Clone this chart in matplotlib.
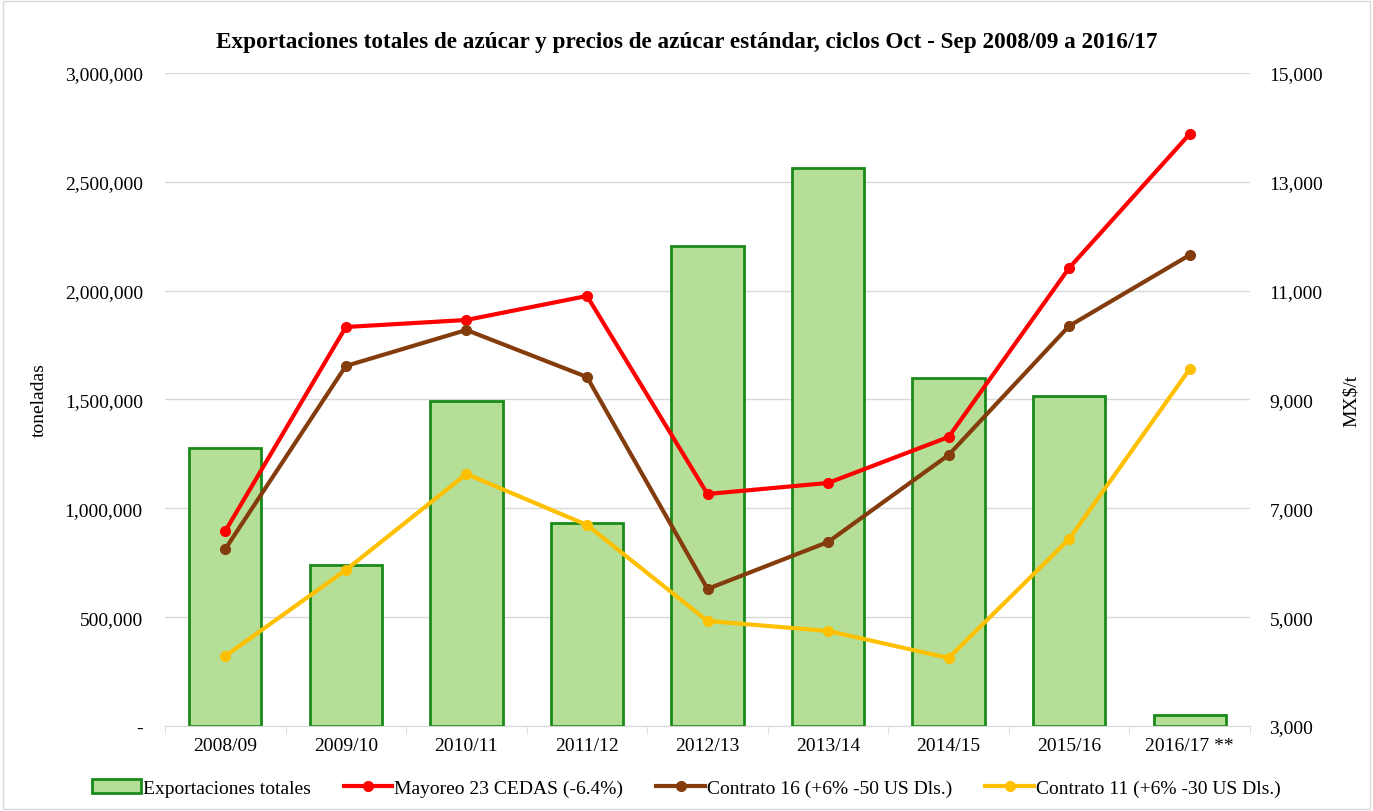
import matplotlib.pyplot as plt
import matplotlib.ticker as mticker
from matplotlib.patches import Rectangle

plt.rcParams['font.family'] = ['Liberation Serif', 'DejaVu Serif']

ciclos = ['2008/09', '2009/10', '2010/11', '2011/12', '2012/13',
          '2013/14', '2014/15', '2015/16', '2016/17 **']
exportaciones = [1275000, 740000, 1495000, 933000, 2205000,
                 2563000, 1599000, 1516000, 51000]
mayoreo = [6583, 10332, 10461, 10902, 7263, 7466, 8311, 11417, 13879]
contrato16 = [6253, 9616, 10277, 9413, 5518, 6381, 7980, 10351, 11655]
contrato11 = [4286, 5867, 7631, 6694, 4930, 4746, 4250, 6436, 9560]

fig = plt.figure(figsize=(13.73, 8.12), dpi=100)
ax = fig.add_axes([0.1202, 0.1047, 0.7902, 0.8042])
ax2 = ax.twinx()

x = list(range(len(ciclos)))
bars = ax.bar(x, exportaciones, width=0.6, color='#b5de97', edgecolor='#1a8a1a',
              linewidth=2, label='Exportaciones totales', zorder=2)
ax.set_ylim(0, 3000000)
ax.set_xlim(-0.5, len(ciclos) - 0.5)
ax.yaxis.set_major_locator(mticker.MultipleLocator(500000))
ax.yaxis.set_major_formatter(mticker.FuncFormatter(lambda v, p: '-' if v == 0 else f'{v:,.0f}'))
ax.grid(axis='y', color='#d9d9d9', linewidth=1, zorder=0)
ax.set_axisbelow(True)
ax.set_xticks(x)
ax.set_xticklabels(ciclos)
ax.set_xticks([i + 0.5 for i in range(-1, len(ciclos))], minor=True)
ax.tick_params(axis='x', which='major', length=0, pad=8, labelsize=14)
ax.tick_params(axis='x', which='minor', length=6, color='#d9d9d9')
ax.tick_params(axis='y', length=0, labelsize=14, pad=16)
ax.set_ylabel('toneladas', fontsize=14, labelpad=12)
for s in ['top', 'left', 'right']:
    ax.spines[s].set_visible(False)
ax.spines['bottom'].set_color('#d9d9d9')

l1, = ax2.plot(x, mayoreo, color='#ff0000', lw=3, marker='o', ms=7, label='Mayoreo 23 CEDAS (-6.4%)')
l2, = ax2.plot(x, contrato16, color='#843c0c', lw=3, marker='o', ms=7, label='Contrato 16 (+6% -50 US Dls.)')
l3, = ax2.plot(x, contrato11, color='#ffc000', lw=3, marker='o', ms=7, label='Contrato 11 (+6% -30 US Dls.)')
ax2.set_ylim(3000, 15000)
ax2.set_yticks(list(range(3000, 15001, 2000)))
ax2.yaxis.set_major_formatter(mticker.FuncFormatter(lambda v, p: f'{v:,.0f}'))
ax2.tick_params(axis='y', length=0, labelsize=14, pad=14)
ax2.set_ylabel('MX$/t', fontsize=14, labelpad=14)
for s in ['top', 'left', 'right', 'bottom']:
    ax2.spines[s].set_visible(False)

fig.suptitle('Exportaciones totales de azúcar y precios de azúcar estándar, ciclos Oct - Sep 2008/09 a 2016/17',
             fontsize=16.7, fontweight='bold', y=0.96)

fig.legend([bars, l1, l2, l3], [bars.get_label(), l1.get_label(), l2.get_label(), l3.get_label()],
           loc='center', bbox_to_anchor=(0.5, 0.028), ncol=4, frameon=False, fontsize=14,
           handlelength=2.5, columnspacing=1.7, handletextpad=0.1)

fig.patches.append(Rectangle((0.002, 0.002), 0.996, 0.996, transform=fig.transFigure,
                             fill=False, edgecolor='#d9d9d9', linewidth=1))

fig.savefig('out.png', dpi=100)
